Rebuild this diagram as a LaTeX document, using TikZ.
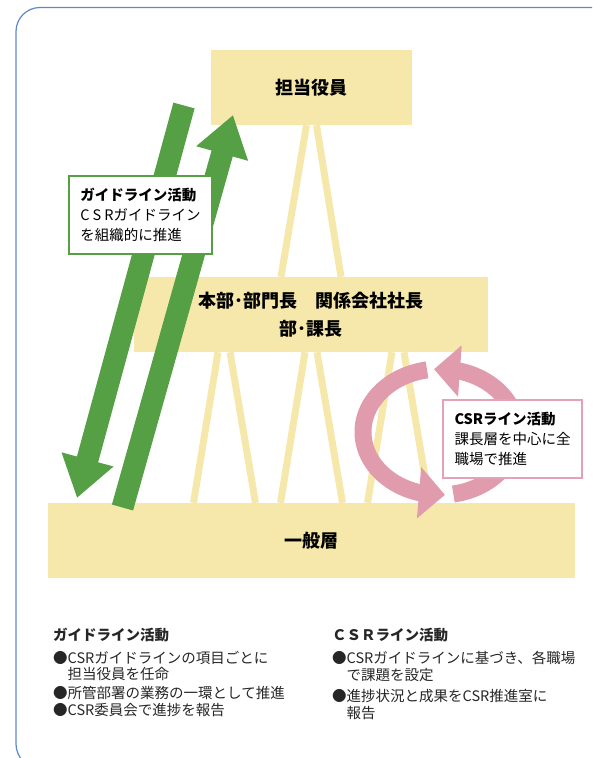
\documentclass[tikz,border=0pt]{standalone}
\usepackage{fontspec}
\setmainfont{Noto Sans CJK JP}
\usetikzlibrary{arrows.meta,bending,calc,backgrounds}
\definecolor{boxyellow}{HTML}{F6E8AB}
\definecolor{arrowgreen}{HTML}{55A044}
\definecolor{ringpink}{HTML}{E09CAD}
\definecolor{tagpink}{HTML}{E4A3B5}
\definecolor{frameblue}{HTML}{5D88C8}

\begin{document}
\begin{tikzpicture}[x=1pt,y=-1pt,
	tier/.style={fill=boxyellow,minimum height=75pt,inner sep=0pt,align=center,font=\fontsize{18}{28}\selectfont\bfseries},
	leg/.style={draw=boxyellow,line width=7pt},
	guidearrow/.style={draw=arrowgreen,line width=22pt,-{Triangle[width=51pt,length=40pt]}},
	loopline/.style={draw=ringpink,line width=17pt,-{Triangle[width=50pt,length=26pt]}},
	tagbox/.style={fill=white,line width=1.3pt,minimum height=78pt,inner sep=0pt,align=left,font=\fontsize{14.5}{20}\selectfont},
	note/.style={anchor=base west,inner sep=0pt,font=\fontsize{14.5}{17}\selectfont,text=black!85}]
	\useasboundingbox (0,0) rectangle (592,758);
	\begin{scope}
		\clip (0,0) rectangle (592,758);
		\draw[frameblue,line width=1.2pt,rounded corners=24pt] (16,7.5) rectangle (620,768);
	\end{scope}
	\node[tier,minimum width=201pt] (officer) at (311.5,87.5) {担当役員};
	\node[tier,minimum width=354pt] (managers) at (311,314.5) {本部･部門長　関係会社社長\\部･課長};
	\node[tier,minimum width=527pt] (general) at (311.5,540.5) {一般層};
	\begin{scope}[on background layer]
		\draw[leg] ($(officer.south)+(-5,0)$) -- ($(managers.north)+(-30,0)$);
		\draw[leg] ($(officer.south)+(5,0)$) -- ($(managers.north)+(30,0)$);
		\foreach \c in {-87,0,87}{
			\draw[leg] ($(managers.south)+(\c-6,0)$) -- ($(general.north)+(\c-31,0)$);
			\draw[leg] ($(managers.south)+(\c+6,0)$) -- ($(general.north)+(\c+31,0)$);
		}
	\end{scope}
	\coordinate (ring) at (440,432);
	\draw[loopline] ($(ring)+(99.7:77pt and 63pt)$) arc[start angle=99.7,end angle=273.7,x radius=77pt,y radius=63pt];
	\draw[loopline] ($(ring)+(-80:77pt and 63pt)$) arc[start angle=-80,end angle=94.5,x radius=77pt,y radius=63pt];
	\coordinate (downtail) at (184,105.5);
	\coordinate (downtip) at (77,498);
	\coordinate (uptail) at (122.5,507.5);
	\coordinate (uptip) at (233,115);
	\draw[guidearrow] (downtail) -- (downtip);
	\draw[guidearrow] (uptail) -- (uptip);
	\node[tagbox,draw=arrowgreen,minimum width=143pt] (guidetag) at (140.5,215) {\textbf{ガイドライン活動}\\C\kern3pt S\kern3pt Rガイドライン\\を組織的に推進};
	\node[tagbox,draw=tagpink,minimum width=139pt] (linetag) at (512.5,439) {\textbf{CSRライン活動}\\課長層を中心に全\\職場で推進};
	\node[note] (guidehead) at (53,640.5) {\textbf{ガイドライン活動}};
	\node[note] (guide1) at (53,663.5) {●CSRガイドラインの項目ごとに};
	\node[note] (guide1b) at (67.5,679) {担当役員を任命};
	\node[note] (guide2) at (53,698.5) {●所管部署の業務の一環として推進};
	\node[note] (guide3) at (53,715.5) {●CSR委員会で進捗を報告};
	\node[note] (linehead) at (332,640.5) {\textbf{ＣＳＲライン活動}};
	\node[note] (line1) at (332,663.5) {●CSRガイドラインに基づき、各職場};
	\node[note] (line1b) at (346.5,680.5) {で課題を設定};
	\node[note] (line2) at (332,701.5) {●進捗状況と成果をCSR推進室に};
	\node[note] (line2b) at (346.5,718.5) {報告};
\end{tikzpicture}
\end{document}
